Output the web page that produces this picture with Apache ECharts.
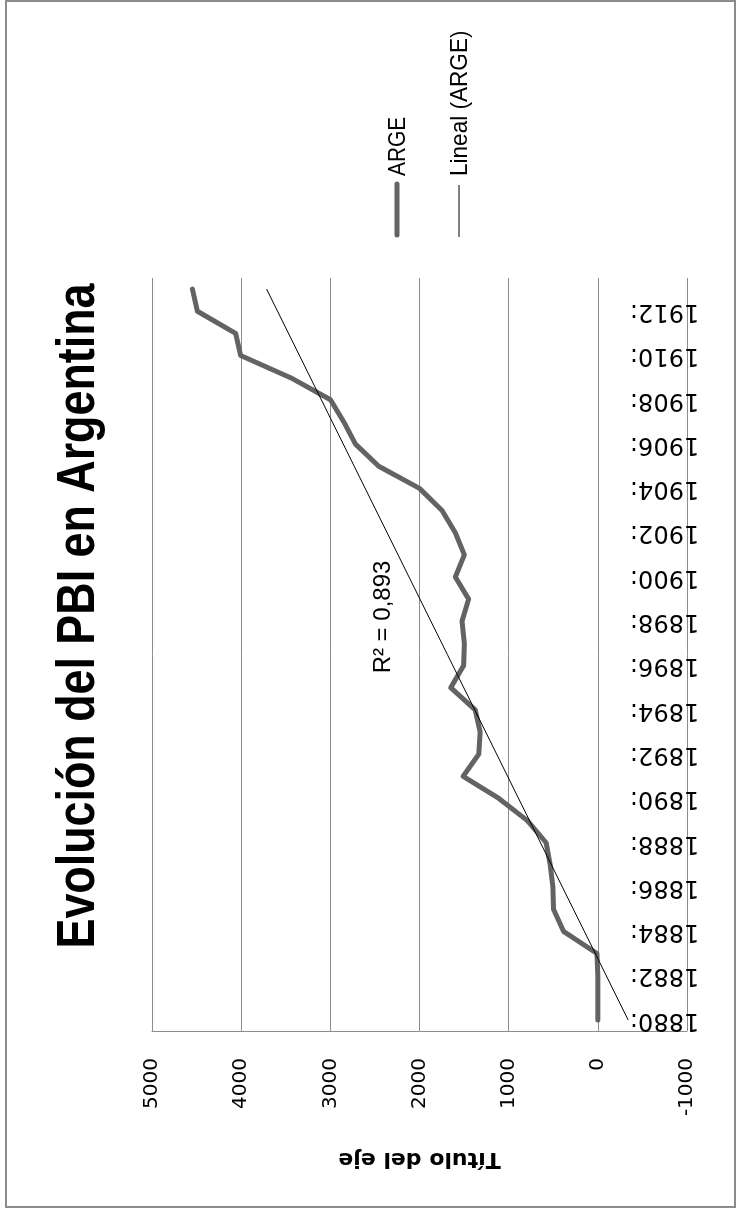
<!DOCTYPE html>
<html><head><meta charset="utf-8">
<script src="https://cdn.jsdelivr.net/npm/echarts@6/dist/echarts.min.js"></script>
<style>html,body{margin:0;padding:0;background:#fff}#c{width:740px;height:1211px}</style>
</head><body><div id="c"></div>
<script>
const years = ['1880','1881','1882','1883','1884','1885','1886','1887','1888','1889','1890','1891','1892','1893','1894','1895','1896','1897','1898','1899','1900','1901','1902','1903','1904','1905','1906','1907','1908','1909','1910','1911','1912','1913'];
const argeValues = [0,0,0,10,385,497,504,534,580,790,1110,1510,1335,1320,1375,1650,1505,1497,1523,1449,1598,1497,1598,1747,2000,2457,2718,2849,2998,3446,4006,4062,4491,4547];
const trendYears = ['1880','1913'];
const trendValues = [-340, 3715];
const valueMin = -1000, valueMax = 5000, valueStep = 1000;
const seriesNames = ['ARGE', 'Lineal (ARGE)'];
const titleText = 'Evolución del PBI en Argentina';
const axisTitle = 'Título del eje';
const r2Text = 'R\u00B2 = 0,893';

const chart = echarts.init(document.getElementById('c'));
const R = Math.PI / 2;
chart.setOption({
  animation: false,
  backgroundColor: '#fff',
  grid: { left: 152, right: 53, top: 278, bottom: 180, outerBoundsMode: 'none', containLabel: false },
  xAxis: {
    type: 'value', inverse: true, min: valueMin, max: valueMax, interval: valueStep,
    position: 'bottom',
    axisLine: { show: true, lineStyle: { color: '#8c8c8c', width: 1 } },
    axisTick: { show: false },
    splitLine: { show: true, lineStyle: { color: '#8c8c8c', width: 1 } },
    axisLabel: { rotate: 90, margin: 27, color: '#000', fontFamily: 'DejaVu Sans', fontSize: 20,
      formatter: v => String(v) },
    name: axisTitle, nameLocation: 'middle', nameGap: 117, nameRotate: 180,
    nameTextStyle: { color: '#000', fontFamily: 'DejaVu Sans', fontWeight: 'bold', fontSize: 22 }
  },
  yAxis: {
    type: 'category', data: years, boundaryGap: true, position: 'right',
    axisLine: { show: false }, axisTick: { show: false }, splitLine: { show: false },
    axisLabel: { interval: 1, rotate: 180, margin: -57, color: '#000', fontFamily: 'DejaVu Sans', fontSize: 24,
      formatter: v => v + ':' }
  },
  series: [
    { name: seriesNames[0], type: 'line', showSymbol: false, symbol: 'none',
      data: argeValues.map((v, i) => [v, years[i]]),
      lineStyle: { color: '#636363', width: 5, join: 'round', cap: 'round' }, z: 3 },
    { name: seriesNames[1], type: 'line', showSymbol: false, symbol: 'none',
      data: trendValues.map((v, i) => [v, trendYears[i]]),
      lineStyle: { color: '#000', width: 1 }, z: 4 }
  ],
  graphic: [
    { type: 'rect', shape: { x: 6, y: 1, width: 729, height: 1206 }, style: { fill: 'none', stroke: '#8c8c8c', lineWidth: 2 }, silent: true },
    { type: 'text', x: 79, y: 616, rotation: R, scaleX: 0.83,
      style: { text: titleText, fill: '#000', font: 'bold 54px "Liberation Sans"', align: 'center', verticalAlign: 'middle' } },
    { type: 'text', x: 383, y: 617, rotation: R, scaleX: 1.0,
      style: { text: r2Text, fill: '#000', font: '24px "Liberation Sans"', align: 'center', verticalAlign: 'middle' } },
    { type: 'line', shape: { x1: 397, y1: 184, x2: 397, y2: 235 }, style: { stroke: '#636363', lineWidth: 5, lineCap: 'round' } },
    { type: 'text', x: 398, y: 176, rotation: R, scaleX: 0.87,
      style: { text: seriesNames[0], fill: '#000', font: '24px "Liberation Sans"', align: 'left', verticalAlign: 'middle' } },
    { type: 'line', shape: { x1: 459, y1: 185, x2: 459, y2: 237 }, style: { stroke: '#000', lineWidth: 1 } },
    { type: 'text', x: 460, y: 176, rotation: R, scaleX: 0.94,
      style: { text: seriesNames[1], fill: '#000', font: '24px "Liberation Sans"', align: 'left', verticalAlign: 'middle' } }
  ]
});
</script></body></html>
